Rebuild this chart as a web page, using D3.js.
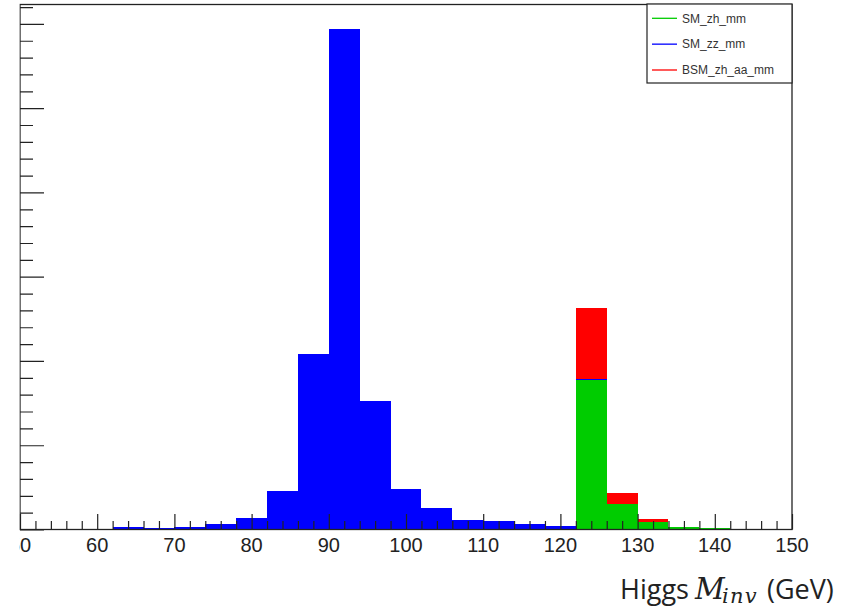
<!DOCTYPE html>
<html>
<head>
<meta charset="utf-8">
<script src="https://cdn.jsdelivr.net/npm/d3@7"></script>
<style>
  html, body { margin: 0; padding: 0; background: #fff; }
  svg { display: block; }
</style>
</head>
<body>
<svg id="chart" width="852" height="608"></svg>
<script>
// Invariant-mass histogram, 4 GeV bins from 50 to 150 GeV (lower edges)
const binLow = [50, 54, 58, 62, 66, 70, 74, 78, 82, 86, 90, 94, 98,
                102, 106, 110, 114, 118, 122, 126, 130, 134, 138, 142, 146];
const binWidth = 4;

// Entries per bin for each sample
const smZh = [0, 0, 0, 0, 0, 0, 0, 0, 0, 0, 0, 0, 0,
              0, 0, 0, 0, 0, 177.5, 30, 9.3, 2.6, 1.4, 0, 0];
const smZz = [0, 0, 0, 3.3, 1.4, 3.3, 6.5, 13.3, 46, 208, 594, 153, 47.5,
              25, 11.3, 9.5, 6.5, 4.7, 1.5, 0, 0, 0, 0, 0, 0];
const bsmZhAa = [0, 0, 0, 0, 0, 0, 0, 0, 0, 0, 0, 0, 0,
                 0, 0, 0, 0, 0, 83.6, 13, 2.8, 0, 0, 0, 0];

const seriesNames = ["SM_zh_mm", "SM_zz_mm", "BSM_zh_aa_mm"];
const seriesColors = ["#00cc00", "#0000ff", "#ff0000"];

const xTickValues = [50, 60, 70, 80, 90, 100, 110, 120, 130, 140, 150];
const xDomain = [50, 150];
const yDomain = [0, 623];

const svg = d3.select("#chart");

// Frame geometry
const frame = { left: 20, right: 792, top: 4.5, bottom: 529.5 };

const x = d3.scaleLinear().domain(xDomain).range([frame.left, frame.right]);
const y = d3.scaleLinear().domain(yDomain).range([frame.bottom, frame.top]);

// Everything left of the y axis is cut away
svg.append("defs").append("clipPath").attr("id", "cut")
  .append("rect").attr("x", frame.left - 0.5).attr("y", 0)
  .attr("width", 852).attr("height", 608);

const g = svg.append("g").attr("clip-path", "url(#cut)");

// Stacked histogram: zh at the bottom, zz next, BSM on top
const rows = binLow.map((b, i) => ({ low: b, zh: smZh[i], zz: smZz[i], aa: bsmZhAa[i] }));
const stacked = d3.stack().keys(["zh", "zz", "aa"])(rows);

stacked.forEach((layer, li) => {
  g.append("g")
    .attr("fill", seriesColors[li])
    .attr("shape-rendering", "crispEdges")
    .selectAll("rect")
    .data(layer.filter(d => d[1] - d[0] > 0))
    .join("rect")
    .attr("x", d => x(d.data.low))
    .attr("width", d => x(d.data.low + binWidth) - x(d.data.low))
    .attr("y", d => y(d[1]))
    .attr("height", d => y(d[0]) - y(d[1]));
});

const axisColor = "#222";

// X axis: major ticks every 10, minor every 2, pointing into the frame
const xMinor = d3.range(50, 150.001, 2).filter(v => v % 10 !== 0);
const xAxisG = g.append("g").attr("transform", `translate(0,${frame.bottom})`);
xAxisG.append("g")
  .call(d3.axisTop(x).tickValues(xMinor).tickSize(8.5).tickFormat(""))
  .call(s => s.select(".domain").remove());
xAxisG.append("g")
  .call(d3.axisTop(x).tickValues(xTickValues).tickSize(15.5).tickFormat(""))
  .call(s => s.select(".domain").remove());
xAxisG.selectAll(".tick line").attr("stroke", axisColor).attr("stroke-width", 1.2);

// X tick labels
g.append("g").selectAll("text")
  .data(xTickValues)
  .join("text")
  .attr("x", d => x(d))
  .attr("y", frame.bottom + 22)
  .attr("text-anchor", "middle")
  .attr("font-family", "Liberation Sans, Arial, sans-serif")
  .attr("font-size", 20)
  .attr("fill", "#222")
  .text(d => d);

// Y axis: major every 100, minor every 20, pointing into the frame, unlabeled
const yMinor = d3.range(0, 623, 20).filter(v => v % 100 !== 0);
const yMajor = d3.range(0, 623, 100);
const yAxisG = g.append("g").attr("transform", `translate(${frame.left},0)`);
yAxisG.append("g")
  .call(d3.axisRight(y).tickValues(yMinor).tickSize(13).tickFormat(""))
  .call(s => s.select(".domain").remove());
yAxisG.append("g")
  .call(d3.axisRight(y).tickValues(yMajor).tickSize(24).tickFormat(""))
  .call(s => s.select(".domain").remove());
yAxisG.selectAll(".tick line").attr("stroke", axisColor).attr("stroke-width", 1.2);

// Frame outline
g.append("rect")
  .attr("x", frame.left).attr("y", frame.top)
  .attr("width", frame.right - frame.left)
  .attr("height", frame.bottom - frame.top)
  .attr("fill", "none")
  .attr("stroke", axisColor)
  .attr("stroke-width", 1.3);

// Legend
const legend = { left: 647, top: 4, right: 792, bottom: 83 };
g.append("rect")
  .attr("x", legend.left).attr("y", legend.top)
  .attr("width", legend.right - legend.left)
  .attr("height", legend.bottom - legend.top)
  .attr("fill", "#fff")
  .attr("stroke", axisColor)
  .attr("stroke-width", 1.2);

const legendRowY = d3.scalePoint().domain(seriesNames).range([18.3, 70]);
const legendItems = g.append("g").selectAll("g")
  .data(seriesNames)
  .join("g")
  .attr("transform", d => `translate(0,${legendRowY(d)})`);
legendItems.append("line")
  .attr("x1", 652).attr("x2", 677)
  .attr("stroke", (d, i) => seriesColors[i])
  .attr("stroke-width", 1.3);
legendItems.append("text")
  .attr("x", 682).attr("y", 4.2)
  .attr("font-family", "Liberation Sans, Arial, sans-serif")
  .attr("font-size", 12)
  .attr("fill", "#333")
  .text(d => d);

// Axis title: "Higgs M_inv (GeV)"
const title = svg.append("text")
  .attr("y", 599)
  .attr("font-family", "Open Sans, sans-serif")
  .attr("font-size", 27)
  .attr("fill", "#222");
title.append("tspan").attr("x", 620).text("Higgs");
title.append("tspan")
  .attr("x", 695)
  .attr("font-family", "DejaVu Serif, Liberation Serif, serif")
  .attr("font-style", "italic")
  .attr("font-size", 29)
  .text("M");
title.append("tspan")
  .attr("x", 722)
  .attr("dy", 4)
  .attr("font-family", "DejaVu Serif, Liberation Serif, serif")
  .attr("font-style", "italic")
  .attr("font-size", 21)
  .attr("letter-spacing", 1.2)
  .text("inv");
title.append("tspan")
  .attr("x", 767)
  .attr("dy", -4)
  .text("(GeV)");
</script>
</body>
</html>
